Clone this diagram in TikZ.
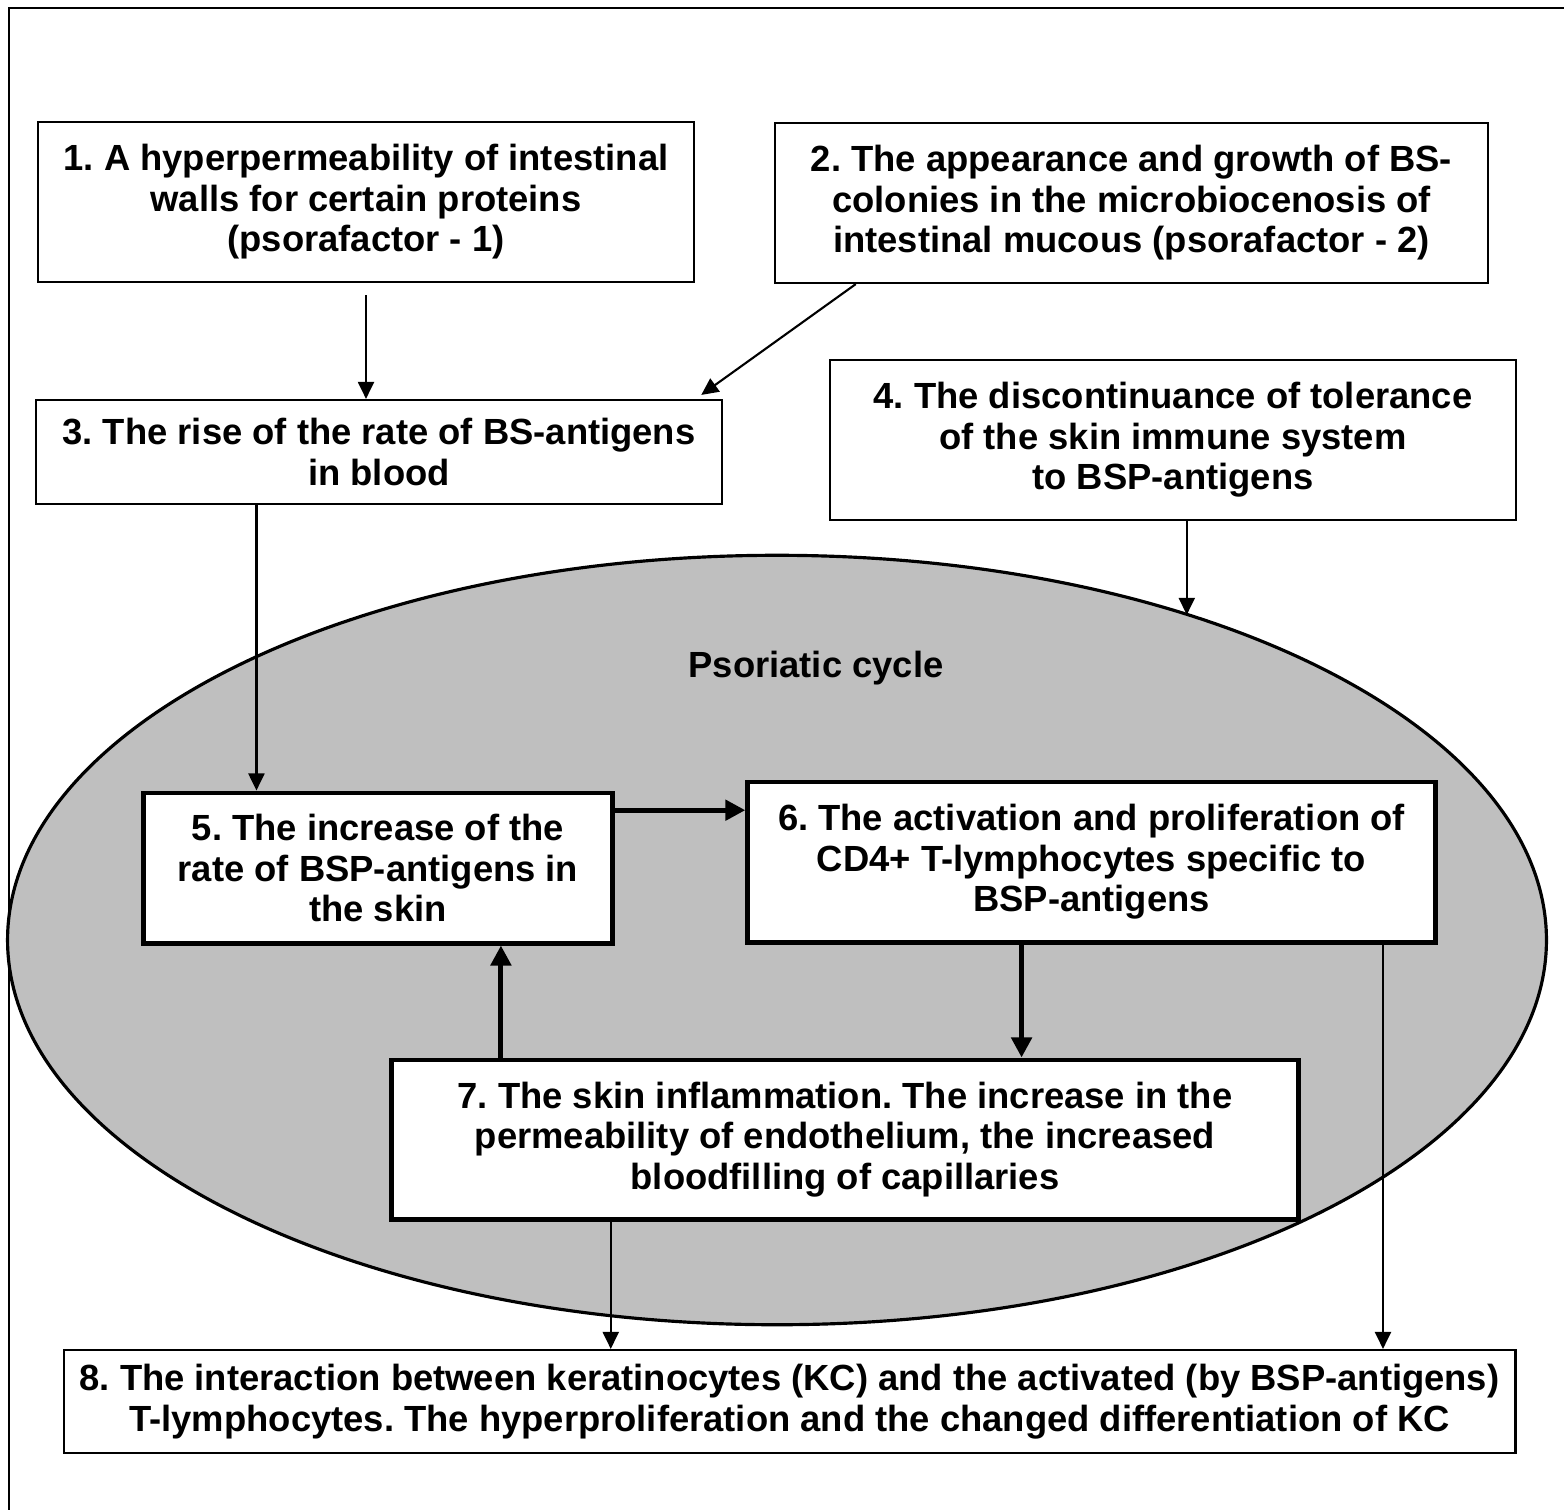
\documentclass[tikz,border=0pt]{standalone}
\usepackage{fontspec}
\setmainfont{Liberation Sans}
\usetikzlibrary{calc,arrows.meta,shapes.geometric}

\tikzset{
  box/.style={draw, fill=white, line width=0.6pt, align=center, inner sep=0pt,
    font=\bfseries\fontsize{10.35}{11.5}\selectfont},
  boldbox/.style={box, line width=1.4pt},
  arr/.style={-{Triangle[length=0.17cm,width=0.16cm]}, line width=0.6pt},
  boldarr/.style={-{Triangle[length=0.2cm,width=0.2cm]}, line width=1.4pt},
}

\begin{document}
\frenchspacing
\begin{tikzpicture}[x=0.01cm,y=-0.01cm]

\useasboundingbox (0,0) rectangle (1564,1509);
\draw[line width=0.6pt] (9,1530) -- (9,8) -- (1580,8);

\node[draw, ellipse, fill=gray!50, line width=0.9pt, inner sep=0pt,
  minimum width=15.38cm, minimum height=7.69cm] (cyc) at (777,940) {};
\node[font=\bfseries\fontsize{10.35}{11.5}\selectfont] (title) at (816,668) {Psoriatic cycle};

\node[box, minimum width=6.56cm, minimum height=1.6cm] (b1) at (366,202)
  {1. A hyperpermeability of intestinal\\walls for certain proteins\\(psorafactor - 1)};
\node[box, minimum width=7.13cm, minimum height=1.6cm] (b2) at (1131.5,203)
  {2. The appearance and growth of BS-\\colonies in the microbiocenosis of\\intestinal mucous (psorafactor - 2)};
\node[box, minimum width=6.86cm, minimum height=1.04cm] (b3) at (379,452)
  {3. The rise of the rate of BS-antigens\\in blood};
\node[box, minimum width=6.86cm, minimum height=1.6cm] (b4) at (1173,440)
  {4. The discontinuance of tolerance\\of the skin immune system\\to BSP-antigens};
\node[boldbox, minimum width=4.68cm, minimum height=1.5cm] (b5) at (378,868)
  {5. The increase of the\\rate of BSP-antigens in\\the skin};
\node[boldbox, minimum width=6.87cm, minimum height=1.6cm] (b6) at (1091.5,862)
  {6. The activation and proliferation of\\CD4+ T-lymphocytes specific to\\BSP-antigens};
\node[boldbox, minimum width=9.06cm, minimum height=1.59cm] (b7) at (845,1139.5)
  {7. The skin inflammation. The increase in the\\permeability of endothelium, the increased\\bloodfilling of capillaries};
\node[box, minimum width=14.51cm, minimum height=1.03cm] (b8) at (789.5,1401.5)
  {8. The interaction between keratinocytes (KC) and the activated (by BSP-antigens)\\T-lymphocytes. The hyperproliferation and the changed differentiation of KC};

\coordinate (c13) at ($(b1.south west)!.5!(b1.south east)$);
\coordinate (c21) at ($(b2.south west)+(82,0)$);
\coordinate (c23) at ($(b3.north east)+(-22,-4)$);
\coordinate (c35) at ($(b3.south west)!.322!(b3.south east)$);
\coordinate (c4) at ($(b4.south west)!.52!(b4.south east)$);
\coordinate (c56) at ($(b5.north east)!.127!(b5.south east)$);
\coordinate (c67) at ($(b6.south west)!.399!(b6.south east)$);
\coordinate (c75) at ($(b7.north west)!.1225!(b7.north east)$);
\coordinate (c78) at ($(b7.south west)!.243!(b7.south east)$);
\coordinate (c68) at ($(b6.south west)!.921!(b6.south east)$);

\draw[arr, shorten <=0.12cm] (c13) -- (c13 |- b3.north);
\draw[arr] (c21) -- (c23);
\draw[arr] (c35) -- (c35 |- b5.north);
\draw[arr] (c4) -- (c4 |- cyc.38.5);
\draw[arr] (c78) -- (c78 |- b8.north);
\draw[arr] (c68) -- (c68 |- b8.north);

\draw[boldarr] (c56) -- (c56 -| b6.west);
\draw[boldarr] (c67) -- (c67 |- b7.north);
\draw[boldarr] (c75) -- (c75 |- b5.south);

\end{tikzpicture}
\end{document}
